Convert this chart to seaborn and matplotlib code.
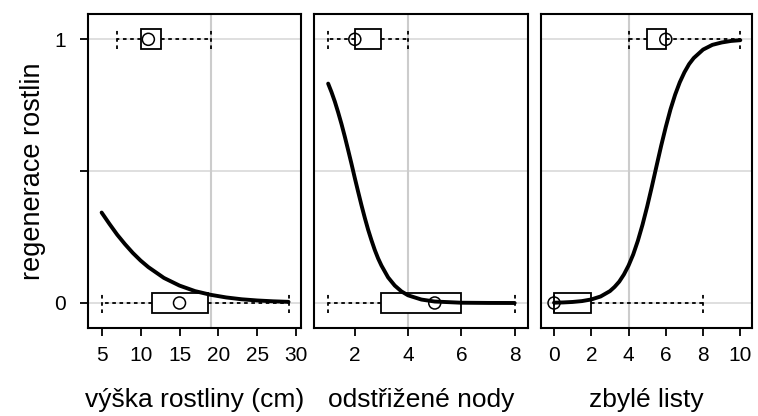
import matplotlib
matplotlib.use("Agg")
import matplotlib.pyplot as plt
import seaborn as sns

sns.set_style("white")
plt.rcParams['font.family'] = ['Liberation Sans', 'DejaVu Sans']
plt.rcParams['text.color'] = 'black'
plt.rcParams['axes.labelcolor'] = 'black'
plt.rcParams['xtick.color'] = 'black'
plt.rcParams['ytick.color'] = 'black'

# five-number summaries (min, q1, median, q3, max) for response 0 and 1
vyska_0 = [5, 11.5, 15, 18.6, 29]
vyska_1 = [7, 10, 11, 12.6, 19]
nody_0 = [1, 3, 5, 6, 8]
nody_1 = [1, 2, 2, 3, 4]
listy_0 = [0, 0, 0, 2, 8]
listy_1 = [4, 5, 6, 6, 10]

# fitted logistic curves
vyska_x = [5, 6, 7, 8, 9, 10, 11, 13, 15, 17, 19, 21, 23, 25, 27, 29]
vyska_p = [0.343, 0.300, 0.259, 0.223, 0.190, 0.161, 0.136, 0.095, 0.066, 0.045, 0.031,
           0.021, 0.014, 0.0095, 0.0064, 0.0043]

nody_x = [1, 1.125, 1.25, 1.375, 1.5, 1.625, 1.75, 1.875, 2, 2.125, 2.25, 2.375, 2.5, 2.625,
          2.75, 2.875, 3, 3.25, 3.5, 3.75, 4, 4.5, 5, 6, 7, 8]
nody_p = [0.832, 0.800, 0.764, 0.723, 0.679, 0.631, 0.580, 0.528, 0.474, 0.422, 0.371, 0.323,
          0.278, 0.238, 0.201, 0.169, 0.142, 0.097, 0.066, 0.044, 0.029, 0.013, 0.0055,
          0.001, 0.0002, 0.0]

listy_x = [0, 0.5, 1, 1.5, 2, 2.5, 3, 3.25, 3.5, 3.75, 4, 4.25, 4.5, 4.75, 5, 5.25, 5.5,
           5.75, 6, 6.25, 6.5, 6.75, 7, 7.25, 7.5, 8, 8.5, 9, 9.5, 10]
listy_p = [0.0011, 0.0021, 0.0039, 0.0072, 0.0134, 0.0247, 0.045, 0.061, 0.081, 0.108, 0.142,
           0.184, 0.236, 0.297, 0.366, 0.441, 0.519, 0.596, 0.668, 0.734, 0.790, 0.837, 0.875,
           0.906, 0.929, 0.961, 0.979, 0.988, 0.9938, 0.9967]

xlabels = ['výška rostliny (cm)', 'odstřižené nody', 'zbylé listy']
xticks = [[5, 10, 15, 20, 25, 30], [2, 4, 6, 8], [0, 2, 4, 6, 8, 10]]
xlims = [(3.25, 30.6), (0.45, 8.5), (-0.7, 10.6)]
vgrid = [19, 4, 4]

panels = [
    (vyska_0, vyska_1, vyska_x, vyska_p),
    (nody_0, nody_1, nody_x, nody_p),
    (listy_0, listy_1, listy_x, listy_p),
]

fig = plt.figure(figsize=(7.58, 4.16), dpi=100)
lefts = [88 / 758, 313.5 / 758, 541 / 758]
widths = [213 / 758, 214.5 / 758, 210.5 / 758]
bottom = 1 - 328.3 / 416
height = (328.3 - 14) / 416

dash = (0, (2, 2))
for i, (d0, d1, cx, cp) in enumerate(panels):
    ax = fig.add_axes([lefts[i], bottom, widths[i], height])
    for yv in [0, 0.5, 1]:
        ax.axhline(yv, color='#d9d9d9', lw=1.2, zorder=0)
    ax.axvline(vgrid[i], color='#cccccc', lw=1.5, zorder=0)

    vals = d0 + d1
    grp = [0] * len(d0) + [1] * len(d1)
    sns.boxplot(x=vals, y=grp, orient='h', native_scale=True, width=0.075,
                whis=(0, 100), color='white', linecolor='black', linewidth=1.3,
                fliersize=0, ax=ax,
                medianprops=dict(visible=False),
                whiskerprops=dict(linestyle=dash),
                capprops=dict(linestyle=dash),
                capwidths=0.075)
    sns.scatterplot(x=[d0[2], d1[2]], y=[0, 1], marker='o', s=75, color='black',
                    facecolor='none', edgecolor='black', linewidth=1.1, ax=ax, zorder=5)
    sns.lineplot(x=cx, y=cp, color='black', lw=2.8, ax=ax, zorder=6)

    ax.set_xlim(*xlims[i])
    ax.set_ylim(-0.096, 1.096)
    ax.set_xticks(xticks[i])
    ax.tick_params(axis='x', direction='out', length=6, width=1.3, labelsize=15, pad=7,
                   bottom=True)
    ax.set_xlabel(xlabels[i], fontsize=19, labelpad=16)
    if i == 0:
        ax.set_yticks([0, 0.5, 1])
        ax.set_yticklabels(['0', '', '1'])
        ax.tick_params(axis='y', direction='out', length=6, width=1.3, labelsize=15, pad=10,
                       left=True)
        ax.set_ylabel('regenerace rostlin', fontsize=19.5, labelpad=6)
    else:
        ax.set_yticks([])
        ax.set_ylabel('')
    for sp in ax.spines.values():
        sp.set_color('black')
        sp.set_linewidth(1.5)
    ax.grid(False)

fig.savefig('out.png', dpi=100)
